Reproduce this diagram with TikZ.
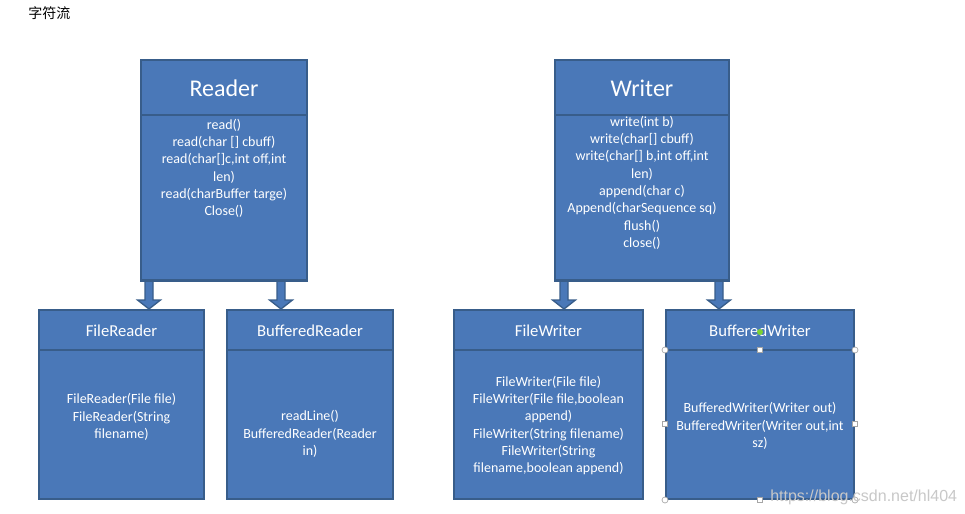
\documentclass[tikz,border=0pt]{standalone}
\usepackage{fontspec}
\setmainfont{Carlito}
\newfontfamily\cjkfont{Noto Sans CJK SC}
\newfontfamily\wmfont{Liberation Sans}
\usetikzlibrary{calc}
\definecolor{bblue}{HTML}{4A78B8}
\definecolor{bdark}{HTML}{385D8A}
\definecolor{wmgray}{HTML}{C8C8C8}
\definecolor{hgreen}{HTML}{7CD232}
\tikzset{
  box/.style={draw=bdark, line width=1.5pt, fill=bblue, inner sep=0pt, anchor=north west},
  sepline/.style={draw=bdark, line width=1.5pt},
  bighdr/.style={text=white, inner sep=0pt, font=\fontsize{18}{22}\selectfont},
  smallhdr/.style={text=white, inner sep=0pt, font=\fontsize{12.5}{15}\selectfont},
  methods/.style={text=white, align=center, inner sep=0pt, font=\fontsize{10.5}{13}\selectfont},
  arrowpoly/.style={draw=bdark, line width=1pt, fill=bblue, line join=miter},
  handlec/.style={circle, draw=gray!70, fill=white, line width=0.5pt, inner sep=0pt, minimum size=4.5pt},
  handles/.style={rectangle, draw=gray!70, fill=white, line width=0.5pt, inner sep=0pt, minimum size=3.5pt},
}
\newcommand\blockarr[2]{%
  \draw[arrowpoly] ($(#1)+(-4,0)$) -- ($(#2)+(-4,-9)$) -- ($(#2)+(-11.5,-9)$) -- (#2)
    -- ($(#2)+(11.5,-9)$) -- ($(#2)+(4,-9)$) -- ($(#1)+(4,0)$) -- cycle;}
\begin{document}
\begin{tikzpicture}[x=0.75pt,y=-0.75pt]
\fill[white] (0,0) rectangle (965,514);
\useasboundingbox (0,0) rectangle (965,514);

% title
\node[anchor=west, inner sep=0pt, font=\cjkfont\fontsize{10.5}{12}\selectfont] (title) at (28,13) {字符流};

% box nodes (geometry only)
\path
  (140,59) node[box, minimum width=166*0.75pt, minimum height=220*0.75pt] (reader) {}
  (554,59) node[box, minimum width=174*0.75pt, minimum height=220*0.75pt] (writer) {}
  (38,309) node[box, minimum width=165*0.75pt, minimum height=189*0.75pt] (freader) {}
  (226,309) node[box, minimum width=166*0.75pt, minimum height=189*0.75pt] (breader) {}
  (453,309) node[box, minimum width=189*0.75pt, minimum height=189*0.75pt] (fwriter) {}
  (665,309) node[box, minimum width=188*0.75pt, minimum height=189*0.75pt] (bwriter) {};

% arrows
\coordinate (ra1) at (149,0 |- reader.south);
\coordinate (ra1t) at (149,0 |- freader.north);
\coordinate (ra2) at (281,0 |- reader.south);
\coordinate (ra2t) at (281,0 |- breader.north);
\coordinate (wa1) at (564,0 |- writer.south);
\coordinate (wa1t) at (564,0 |- fwriter.north);
\coordinate (wa2) at (719,0 |- writer.south);
\coordinate (wa2t) at (719,0 |- bwriter.north);
\blockarr{ra1}{ra1t}
\blockarr{ra2}{ra2t}
\blockarr{wa1}{wa1t}
\blockarr{wa2}{wa2t}
% redraw bottom border of parents over arrow tops
\draw[sepline] (reader.south west) -- (reader.south east);
\draw[sepline] (writer.south west) -- (writer.south east);

% separators
\draw[sepline] (reader.west |- 0,115) -- (reader.east |- 0,115);
\draw[sepline] (writer.west |- 0,115) -- (writer.east |- 0,115);
\draw[sepline] (freader.west |- 0,350) -- (freader.east |- 0,350);
\draw[sepline] (breader.west |- 0,350) -- (breader.east |- 0,350);
\draw[sepline] (fwriter.west |- 0,350) -- (fwriter.east |- 0,350);
\draw[sepline] (bwriter.west |- 0,350) -- (bwriter.east |- 0,350);

% headers
\node[bighdr] (readerh) at (reader.north |- 0,88) {Reader};
\node[bighdr] (writerh) at (writer.north |- 0,88) {Writer};
\node[smallhdr] (freaderh) at (freader.north |- 0,331) {FileReader};
\node[smallhdr] (breaderh) at (breader.north |- 0,331) {BufferedReader};
\node[smallhdr] (fwriterh) at (fwriter.north |- 0,331) {FileWriter};
\node[smallhdr] (bwriterh) at (bwriter.north |- 0,331) {BufferedWriter};

% method texts
\node[methods, anchor=north] (readerm) at (reader.north |- 0,118.5) {read()\\read(char [] cbuff)\\read(char[]c,int off,int\\len)\\read(charBuffer targe)\\Close()};
\node[methods, anchor=north] (writerm) at (writer.north |- 0,115.5) {write(int b)\\write(char[] cbuff)\\write(char[] b,int off,int\\len)\\append(char c)\\Append(charSequence sq)\\flush()\\close()};
\node[methods] (freaderm) at (freader.north |- 0,417) {FileReader(File file)\\FileReader(String\\filename)};
\node[methods] (breaderm) at (breader.north |- 0,434) {readLine()\\BufferedReader(Reader\\in)};
\node[methods] (fwriterm) at (fwriter.north |- 0,425.5) {FileWriter(File file)\\FileWriter(File file,boolean\\append)\\FileWriter(String filename)\\FileWriter(String\\filename,boolean append)};
\node[methods] (bwriterm) at (bwriter.north |- 0,426) {BufferedWriter(Writer out)\\BufferedWriter(Writer out,int\\sz)};

% selection handles on BufferedWriter body
\node[handlec] (h1) at (bwriter.west |- 0,350) {};
\node[handlec] (h2) at (bwriter.east |- 0,350) {};
\node[handlec] (h3) at (bwriter.south west) {};
\node[handlec] (h4) at (bwriter.south east) {};
\node[handles] (h5) at (bwriter.north |- 0,350) {};
\node[handles] (h6) at (bwriter.south) {};
\node[handles] (h7) at (bwriter.west |- 0,424) {};
\node[handles] (h8) at (bwriter.east |- 0,424) {};
\node[circle, fill=hgreen, inner sep=0pt, minimum size=4.5pt] (hg) at (bwriter.north |- 0,332) {};

% watermark
\node[anchor=base west, inner sep=0pt, text=wmgray, font=\wmfont\fontsize{12}{14}\selectfont] (wm) at (770,501) {https://blog.csdn.net/hl404};
\end{tikzpicture}
\end{document}
